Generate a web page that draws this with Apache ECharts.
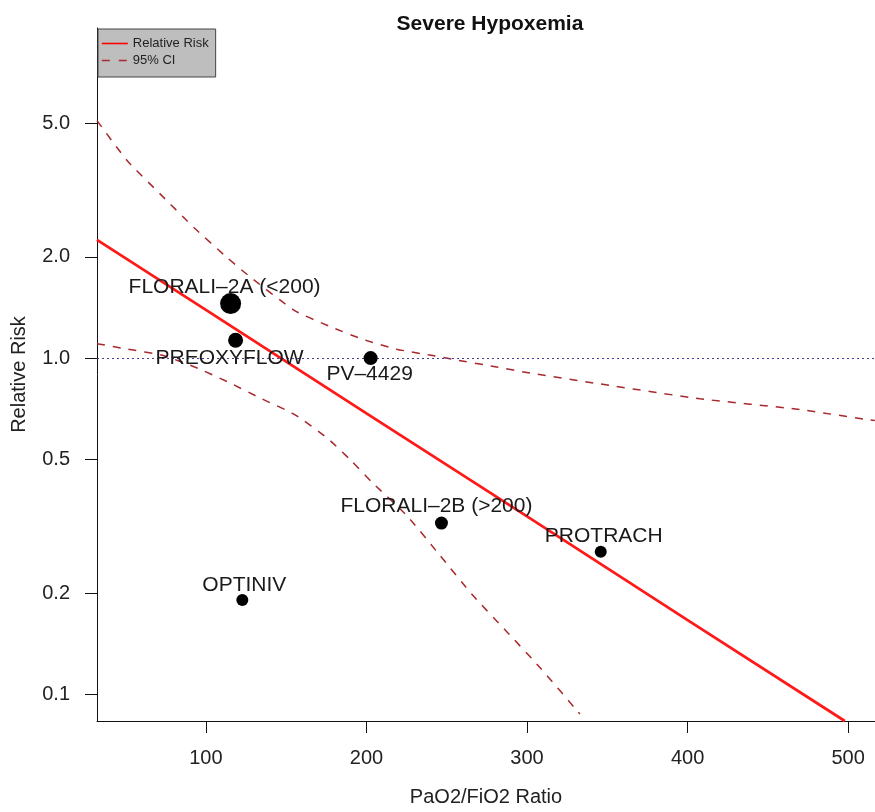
<!DOCTYPE html>
<html>
<head>
<meta charset="utf-8">
<script src="https://cdn.jsdelivr.net/npm/echarts@6/dist/echarts.min.js"></script>
<style>
  html, body { margin: 0; padding: 0; background: #ffffff; }
  #chart { width: 875px; height: 812px; }
</style>
</head>
<body>
<div id="chart"></div>
<script>
// ---------------- data ----------------
const chartTitle = 'Severe Hypoxemia';
const xAxisTitle = 'PaO2/FiO2 Ratio';
const yAxisTitle = 'Relative Risk';

const studyNames = ['FLORALI\u20132A (<200)', 'PREOXYFLOW', 'PV\u20134429', 'FLORALI\u20132B (>200)', 'PROTRACH', 'OPTINIV'];
const studyRatio = [115.4, 118.5, 202.6, 246.7, 345.9, 122.7];
const studyRisk  = [1.453, 1.130, 1.0, 0.323, 0.2654, 0.1906];

const fitRatio = [32.2, 100, 200, 300, 400, 497.9];
const fitRisk  = [2.249, 1.391, 0.685, 0.338, 0.166, 0.0832];

const upperRatio = [32.2, 51.2, 72.4, 93.0, 113.5, 126.0, 155.3, 177.1, 197.6, 218.8, 239.4, 253.1, 281.1, 301.7, 345.3, 407.6, 469.9, 511.6, 516.6];
const upperRisk  = [5.09, 3.86, 3.05, 2.435, 1.986, 1.769, 1.385, 1.243, 1.138, 1.063, 1.021, 0.993, 0.941, 0.903, 0.838, 0.757, 0.703, 0.656, 0.652];

const lowerRatio = [32.2, 51.2, 72.4, 93.0, 113.5, 134.7, 155.3, 175.8, 190.8, 203.9, 225.1, 245.7, 266.2, 287.4, 308.0, 332.9];
const lowerRisk  = [1.104, 1.063, 1.021, 0.941, 0.850, 0.757, 0.679, 0.577, 0.4935, 0.425, 0.340, 0.259, 0.197, 0.1534, 0.1201, 0.0873];

const referenceRisk = 1;
const xTicks = [100, 200, 300, 400, 500];
const yTicks = [0.1, 0.2, 0.5, 1, 2, 5];
const xRange = [32.2, 516.7];
const yRange = [0.0832, 9.6];

// ---------------- styles ----------------
const FONT = '"Liberation Sans", Arial, Helvetica, sans-serif';
const markerSizes = [21, 15, 14, 13, 12, 12];
const labelOffsets = [[-6, -16], [-6, 18], [-1, 16], [-5, -17], [3, -15], [2, -15]];

const zip = (a, b) => a.map((v, i) => [v, b[i]]);

const scatterData = studyNames.map((n, i) => ({
  name: n,
  value: [studyRatio[i], studyRisk[i]],
  symbolSize: markerSizes[i],
  label: { offset: labelOffsets[i] }
}));

const ciColor = '#a8282c';
const ciStyle = { color: ciColor, width: 1.5, type: [8, 8] };

const chart = echarts.init(document.getElementById('chart'), null, { renderer: 'canvas', width: 875, height: 812 });
chart.setOption({
  animation: false,
  backgroundColor: '#ffffff',
  textStyle: { fontFamily: FONT },
  title: {
    text: chartTitle,
    left: 485,
    top: 9,
    textAlign: 'center',
    textStyle: { fontFamily: FONT, fontSize: 21, fontWeight: 'bold', color: '#111' }
  },
  legend: {
    left: 98,
    top: 29,
    orient: 'vertical',
    backgroundColor: '#bebebe',
    borderColor: '#444',
    borderWidth: 1,
    borderRadius: 0,
    padding: [8, 7, 10, 3],
    itemGap: 4,
    itemWidth: 26,
    itemHeight: 14,
    selectedMode: false,
    textStyle: { fontFamily: FONT, fontSize: 13, color: '#222' },
    data: [
      { name: 'Relative Risk', itemStyle: { opacity: 0 }, lineStyle: { width: 1.6, color: '#ff0000' } },
      { name: '95% CI', itemStyle: { opacity: 0 }, lineStyle: { width: 1.4, color: ciColor, type: [8, 9] } }
    ]
  },
  grid: { left: 97, right: 0, top: 28, bottom: 85, containLabel: false },
  xAxis: {
    type: 'value',
    min: xRange[0],
    max: xRange[1],
    name: xAxisTitle,
    nameLocation: 'middle',
    nameGap: 66,
    nameTextStyle: { fontFamily: FONT, fontSize: 20, color: '#222' },
    axisLine: { show: true, onZero: false, lineStyle: { color: '#111', width: 1 } },
    axisTick: { show: true, length: 12, lineStyle: { color: '#111' }, customValues: xTicks },
    axisLabel: { fontFamily: FONT, fontSize: 20, color: '#222', margin: 27, customValues: xTicks, formatter: v => String(Math.round(v)) },
    splitLine: { show: false }
  },
  yAxis: {
    type: 'log',
    logBase: 10,
    min: yRange[0],
    max: yRange[1],
    name: yAxisTitle,
    nameLocation: 'middle',
    nameGap: 68,
    nameTextStyle: { fontFamily: FONT, fontSize: 20, color: '#222' },
    axisLine: { show: true, onZero: false, lineStyle: { color: '#111', width: 1 } },
    axisTick: { show: true, length: 12, lineStyle: { color: '#111' }, customValues: yTicks },
    axisLabel: { fontFamily: FONT, fontSize: 20, color: '#222', margin: 27, customValues: yTicks, formatter: v => Number(v).toFixed(1) },
    splitLine: { show: false }
  },
  series: [
    {
      name: 'Relative Risk',
      type: 'line',
      data: zip(fitRatio, fitRisk),
      showSymbol: false,
      symbol: 'none',
      clip: true,
      lineStyle: { color: '#ff1a1a', width: 2.8 },
      itemStyle: { color: '#ff1a1a' },
      z: 3,
      markLine: {
        silent: true,
        symbol: 'none',
        label: { show: false },
        lineStyle: { color: '#40409a', width: 1, type: [2, 3] },
        data: [{ yAxis: referenceRisk }]
      }
    },
    {
      name: '95% CI',
      type: 'line',
      data: zip(upperRatio, upperRisk),
      showSymbol: false,
      symbol: 'none',
      smooth: 0.2,
      clip: true,
      lineStyle: ciStyle,
      itemStyle: { color: ciColor },
      z: 2
    },
    {
      name: '95% CI',
      type: 'line',
      data: zip(lowerRatio, lowerRisk),
      showSymbol: false,
      symbol: 'none',
      smooth: 0.2,
      clip: true,
      lineStyle: ciStyle,
      itemStyle: { color: ciColor },
      z: 2
    },
    {
      name: 'Studies',
      type: 'scatter',
      data: scatterData,
      symbol: 'circle',
      itemStyle: { color: '#000', opacity: 1 },
      z: 5,
      label: {
        show: true,
        position: 'inside',
        formatter: p => p.name,
        fontFamily: FONT,
        fontSize: 21,
        color: '#1a1a1a'
      }
    }
  ]
});
</script>
</body>
</html>
